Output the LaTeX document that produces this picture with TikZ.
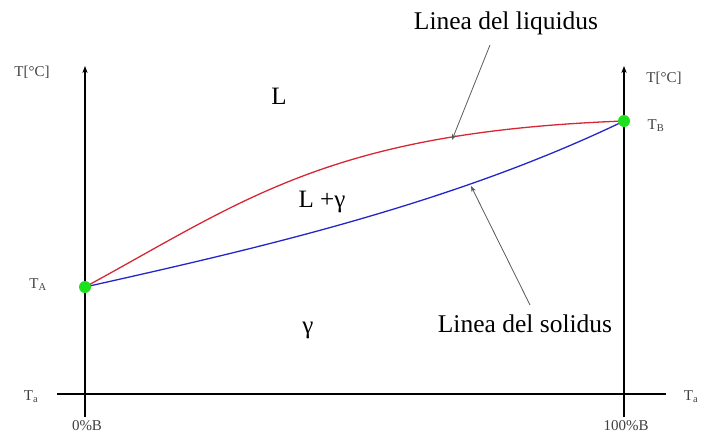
\documentclass[tikz,border=0pt]{standalone}
\usepackage{fontspec}
\setmainfont{Liberation Serif}
\usepackage{xcolor}
\usetikzlibrary{arrows.meta, positioning}

\definecolor{liqred}{RGB}{214,40,52}
\definecolor{solblue}{RGB}{38,38,200}
\definecolor{dotgreen}{RGB}{30,225,30}

\begin{document}
\begin{tikzpicture}[x=1pt, y=-1pt, thick]
        \useasboundingbox (0,0) rectangle (708,441);

        % Axes
        \coordinate (lbot) at (85,417);
        \coordinate (ltop) at (85,66);
        \coordinate (rbot) at (624,417);
        \coordinate (rtop) at (624,66);
        \coordinate (hleft) at (57,394);
        \coordinate (hright) at (666,394);
        \draw[line width=1.6pt, -{Stealth[length=7pt]}] (lbot) -- (ltop);
        \draw[line width=1.6pt, -{Stealth[length=7pt]}] (rbot) -- (rtop);
        \draw[line width=1.6pt] (hleft) -- (hright);

        % Melting points
        \coordinate (ta) at (85,287);
        \coordinate (tb) at (624,121);

        % Liquidus and solidus
        \draw[liqred, line width=1.3pt] (ta) .. controls (245,200) and (330,132) .. (tb);
        \draw[solblue, line width=1.3pt] (ta) .. controls (250,250) and (450,205) .. (tb);
        \node (dota) [circle, fill=dotgreen, inner sep=0pt, minimum size=12pt] at (ta) {};
        \node (dotb) [circle, fill=dotgreen, inner sep=0pt, minimum size=12pt] at (tb) {};

        % Axis labels
        \node (tcleft) [font=\fontsize{15}{18}\selectfont, text=black!75] at (32,72) {T[°C]};
        \node (tcright) [font=\fontsize{15}{18}\selectfont, text=black!75] at (664,78) {T[°C]};
        \node (lta) [font=\fontsize{15}{18}\selectfont, text=black!75] at (38,285) {T\textsubscript{A}};
        \node (ltb) [font=\fontsize{15}{18}\selectfont, text=black!75] at (656,126) {T\textsubscript{B}};
        \node (tal) [font=\fontsize{15}{18}\selectfont, text=black!75] at (31,397) {T\textsubscript{a}};
        \node (tar) [font=\fontsize{15}{18}\selectfont, text=black!75] at (691,397) {T\textsubscript{a}};
        \node (zero) [font=\fontsize{15}{18}\selectfont, text=black!75] at (87,426) {0\%B};
        \node (hundred) [font=\fontsize{15}{18}\selectfont, text=black!75] at (626,426) {100\%B};

        % Phase regions
        \node (liq) [font=\fontsize{25}{30}\selectfont] at (279,96) {L};
        \node (mix) [font=\fontsize{25}{30}\selectfont] at (322,202) {L +γ};
        \node (sol) [font=\fontsize{25}{30}\selectfont] at (308,330) {γ};

        % Curve names
        \node (liqname) [font=\fontsize{25.5}{30}\selectfont] at (506,23) {Linea del liquidus};
        \node (solname) [font=\fontsize{25.5}{30}\selectfont] at (525,324) {Linea del solidus};
        \coordinate (liqtail) at (490,45);
        \coordinate (liqpt) at (452,140);
        \coordinate (soltail) at (530,305);
        \coordinate (solpt) at (471,186);
        \draw[black!65, line width=0.8pt, -{Stealth[length=6pt]}] (liqtail) -- (liqpt);
        \draw[black!65, line width=0.8pt, -{Stealth[length=6pt]}] (soltail) -- (solpt);
    \end{tikzpicture}
\end{document}
